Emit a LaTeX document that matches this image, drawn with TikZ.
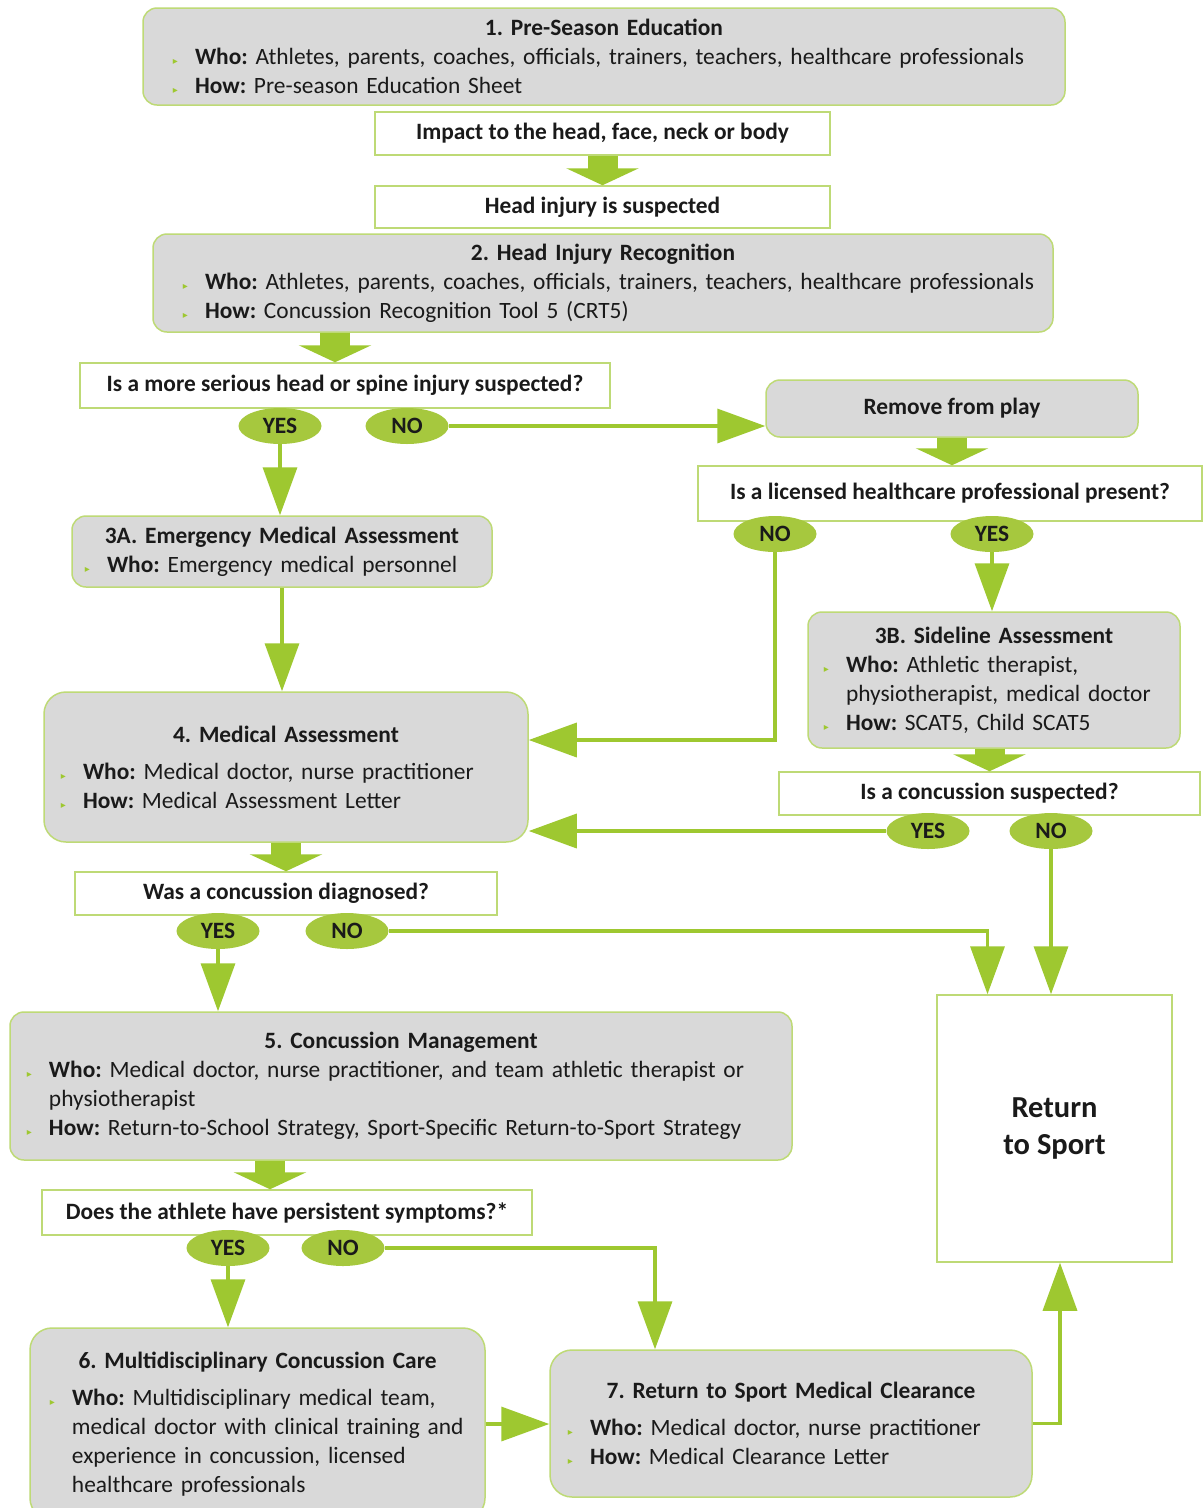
\documentclass[tikz,border=0pt]{standalone}
\usepackage{fontspec}
\setmainfont{Carlito}
\newfontfamily\symf{DejaVu Sans}
\usetikzlibrary{arrows.meta,positioning,calc,shapes.geometric}

\definecolor{agreen}{RGB}{158,200,48}
\definecolor{ygreen}{RGB}{166,200,62}
\definecolor{boxline}{RGB}{190,218,118}
\definecolor{boxgray}{RGB}{217,217,217}
\definecolor{ink}{RGB}{26,26,26}

\newcommand{\fs}{\fontsize{23.4}{29}\selectfont\frenchspacing\hyphenpenalty=10000\relax}
\newcommand{\ttl}[2][0pt]{{\centering\bfseries #2\par}\vspace{#1}}
\newcommand{\bul}{\par\noindent\llap{{\symf\color{agreen}\fontsize{10}{10}\selectfont ▸}\hspace{17pt}}}
\newcommand{\hd}[1]{\textbf{#1}}

\begin{document}
\begin{tikzpicture}[
    x=1pt, y=-1pt,
    font=\fs, text=ink,
    gbox/.style={draw=boxline, line width=1.5pt, fill=boxgray, rounded corners=14pt,
                 inner sep=6pt, align=left},
    qbox/.style={draw=boxline, line width=1.5pt, fill=white, inner sep=0pt,
                 font=\fs\bfseries, align=center},
    sz/.style 2 args={minimum width=#1pt, minimum height=#2pt},
    yn/.style={ellipse, fill=ygreen, inner sep=0pt, minimum width=83pt,
               minimum height=36pt, font=\fs\bfseries},
    link/.style={draw=agreen, line width=3.5pt,
                 -{Triangle[length=48pt 0 0, width=34pt 0 0]}},
    fat/.style={draw=agreen, line width=30pt,
                -{Triangle[length=17pt 0 0, width=72pt 0 0]}}
]
    \fill[white] (0,0) rectangle (1204,1508);
    \useasboundingbox (0,0) rectangle (1204,1508);
    \clip (0,0) rectangle (1204,1508);

    % steps
    \node[gbox, text width=910pt, minimum height=97pt] (pre) at (604,56.5)
        {\ttl{1. Pre-Season Education}\leftskip=46pt
         \bul\hd{Who:} Athletes, parents, coaches, officials, trainers, teachers, healthcare professionals
         \bul\hd{How:} Pre-season Education Sheet\par};
    \node[qbox, sz={455}{43}] (impact) at (602.5,133.5) {Impact to the head, face, neck or body};
    \node[qbox, sz={455}{42}] (head) at (602.5,207) {Head injury is suspected};
    \node[gbox, text width=888pt, minimum height=98pt] (hir) at (603,283)
        {\ttl{2. Head Injury Recognition}\leftskip=46pt
         \bul\hd{Who:} Athletes, parents, coaches, officials, trainers, teachers, healthcare professionals
         \bul\hd{How:} Concussion Recognition Tool 5 (CRT5)\par};
    \node[qbox, sz={530}{45}] (q1) at (345,385.5) {Is a more serious head or spine injury suspected?};
    \node[gbox, sz={372}{57}, font=\fs\bfseries, align=center] (remove) at (952,408.5) {Remove from play};
    \node[qbox, sz={504}{55}] (q2) at (950,493.5) {Is a licensed healthcare professional present?};
    \node[gbox, text width=408pt, minimum height=71pt] (ema) at (282,551.5)
        {\ttl{3A. Emergency Medical Assessment}\leftskip=29pt
         \bul\hd{Who:} Emergency medical personnel\par};
    \node[gbox, text width=360pt, minimum height=136pt] (side) at (994,680)
        {\ttl{3B. Sideline Assessment}\leftskip=32pt
         \bul\hd{Who:} Athletic therapist,\newline physiotherapist, medical doctor
         \bul\hd{How:} SCAT5, Child SCAT5\par};
    \node[gbox, text width=472pt, minimum height=150pt, rounded corners=22pt] (medass) at (286,767)
        {\ttl[8pt]{4. Medical Assessment}\leftskip=33pt
         \bul\hd{Who:} Medical doctor, nurse practitioner
         \bul\hd{How:} Medical Assessment Letter\par};
    \node[qbox, sz={421}{43}] (q3) at (989.5,793.5) {Is a concussion suspected?};
    \node[qbox, sz={422}{43}] (q4) at (286,893.5) {Was a concussion diagnosed?};
    \node[draw=boxline, line width=1.5pt, fill=white, sz={235}{267}, align=center,
          font=\fontsize{30.5}{37}\selectfont\bfseries] (rts) at (1054.5,1128.5) {Return\\to Sport};
    \node[gbox, text width=770pt, minimum height=148pt] (mgmt) at (401,1086)
        {\ttl{5. Concussion Management}\leftskip=33pt
         \bul\hd{Who:} Medical doctor, nurse practitioner, and team athletic therapist or\newline physiotherapist
         \bul\hd{How:} Return-to-School Strategy, Sport-Specific Return-to-Sport Strategy\par};
    \node[qbox, sz={490}{45}] (q5) at (287,1212.5) {Does the athlete have persistent symptoms?*};
    \node[gbox, text width=443pt, minimum height=192pt, rounded corners=22pt] (mdc) at (257.5,1424)
        {\ttl[8pt]{6. Multidisciplinary Concussion Care}\leftskip=36pt
         \bul\hd{Who:} Multidisciplinary medical team,\newline medical doctor with clinical training and\newline
         experience in concussion, licensed\newline healthcare professionals\par};
    \node[gbox, text width=470pt, minimum height=147pt, rounded corners=22pt] (clear) at (791,1423.5)
        {\ttl[8pt]{7. Return to Sport Medical Clearance}\leftskip=34pt
         \bul\hd{Who:} Medical doctor, nurse practitioner
         \bul\hd{How:} Medical Clearance Letter\par};

    % answers
    \foreach \n/\x/\y/\t in {q1y/280/426/YES, q1n/407/426/NO, q2n/775/534/NO, q2y/992/534/YES,
                             q3y/928/831/YES, q3n/1051/831/NO, q4y/218/931/YES, q4n/347/931/NO,
                             q5y/228/1248/YES, q5n/343/1248/NO}
        \node[yn] (\n) at (\x,\y) {\t};

    % wide arrows
    \draw[fat] (impact.south) -- (head.north);
    \draw[fat] ([xshift=-10pt]q1.north |- hir.south) -- ([xshift=-10pt]q1.north);
    \draw[fat] (remove.south) -- (remove.south |- q2.north);
    \draw[fat] (q3.north |- side.south) -- (q3.north);
    \draw[fat] (medass.south) -- (q4.north);
    \draw[fat] ([xshift=-17pt]q5.north |- mgmt.south) -- ([xshift=-17pt]q5.north);

    % thin arrows
    \draw[link] (q1y.south) -- (q1y.south |- ema.north);
    \draw[link] (q1n.east) -- (q1n.east -| remove.west);
    \draw[link] (q2y.south) -- (q2y.south |- side.north);
    \draw[link] (q2n.south) |- ([yshift=27pt]medass.east);
    \draw[link] (ema.south) -- (ema.south |- medass.north);
    \draw[link] (q3y.west) -- (q3y.west -| medass.east);
    \draw[link] (q3n.south) -- (q3n.south |- rts.north);
    \draw[link] (q4y.south) -- (q4y.south |- mgmt.north);
    \draw[link] (q4n.east) -| ([xshift=-67pt]rts.north);
    \draw[link] (q5y.south) -- (q5y.south |- mdc.north);
    \draw[link] (q5n.east) -| ([xshift=-136pt]clear.north);
    \draw[link] (mdc.east) -- (mdc.east -| clear.west);
    \draw[link] (clear.east) -| ([xshift=5.5pt]rts.south);
\end{tikzpicture}
\end{document}
